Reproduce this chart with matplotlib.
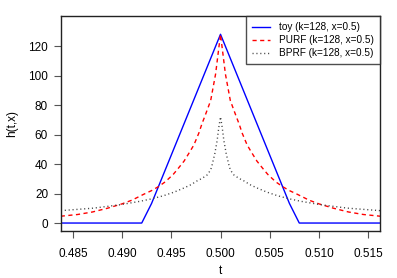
import numpy as np
import matplotlib
matplotlib.use("Agg")
import matplotlib.pyplot as plt

plt.rcParams['font.family'] = ['Liberation Sans', 'DejaVu Sans']

# toy kernel (tent)
toy_t = [0.480, 0.492, 0.493, 0.500, 0.507, 0.508, 0.520]
toy_h = [0.0, 0.0, 13.3, 128.0, 13.3, 0.0, 0.0]

# PURF: distance from 0.5 and value (symmetric)
purf_d = [0, 0.0005, 0.001, 0.0015, 0.0019, 0.0022, 0.0027, 0.0031, 0.0037,
          0.0043, 0.0048, 0.0056, 0.0063, 0.007, 0.0078, 0.009, 0.010,
          0.0115, 0.0130, 0.0145, 0.0170]
purf_h = [128, 101, 83, 74, 67, 61, 53, 48.5, 42, 37, 33, 28, 24.7, 22,
          19.5, 15.5, 13, 10, 7.5, 5.8, 4.1]

# BPRF
bprf_d = [0, 0.00017, 0.00034, 0.00058, 0.00085, 0.001, 0.00136, 0.00187,
          0.0024, 0.003, 0.0037, 0.0047, 0.0058, 0.007, 0.0082, 0.0102,
          0.0129, 0.0170]
bprf_h = [72, 65, 56, 47, 39.5, 36, 32.6, 30.3, 28.5, 26, 23.8, 21, 18.5,
          16.4, 14.7, 12.4, 10.1, 8.0]

xticks = [0.485, 0.490, 0.495, 0.500, 0.505, 0.510, 0.515]
yticks = [0, 20, 40, 60, 80, 100, 120]
labels = ["toy (k=128, x=0.5)", "PURF (k=128, x=0.5)", "BPRF (k=128, x=0.5)"]


def mirror(d, h):
    d = np.asarray(d, float)
    h = np.asarray(h, float)
    t = np.concatenate([0.5 - d[::-1], 0.5 + d[1:]])
    v = np.concatenate([h[::-1], h[1:]])
    return t, v


fig = plt.figure(figsize=(3.97, 2.78), dpi=100)
ax = fig.add_axes([61 / 397, 1 - 231 / 278, (380 - 61) / 397, (231 - 16) / 278])

ax.plot(toy_t, toy_h, color='#0000FF', lw=1.0, label=labels[0])
pt, pv = mirror(purf_d, purf_h)
ax.plot(pt, pv, color='#FF0000', lw=1.0, linestyle=(0, (3, 2.5)), label=labels[1])
bt, bv = mirror(bprf_d, bprf_h)
ax.plot(bt, bv, color='#444444', lw=1.0, linestyle=(0, (0.8, 2)), label=labels[2])

xmin, xmax = 0.485, 0.515
xr = xmax - xmin
ax.set_xlim(xmin - 0.04 * xr, xmax + 0.04 * xr)
ymin, ymax = 0, 135
yr = ymax - ymin
ax.set_ylim(ymin - 0.04 * yr, ymax + 0.04 * yr)

ax.set_xticks(xticks)
ax.set_xticklabels([f"{v:.3f}" for v in xticks])
ax.set_yticks(yticks)
ax.set_yticklabels([str(v) for v in yticks])
ax.tick_params(direction='out', length=5, width=0.8, labelsize=8.5, pad=7,
               color='#555555')
ax.tick_params(axis='y', pad=4.3)
for s in ax.spines.values():
    s.set_linewidth(1.0)
    s.set_color('#222222')

ax.set_xlabel("t", fontsize=8.5, labelpad=3.5)
ax.set_ylabel("h(t,x)", fontsize=8.5, labelpad=7)

leg = ax.legend(loc='upper right', fontsize=7.2, frameon=True, fancybox=False,
                borderaxespad=0, handlelength=1.8, handletextpad=0.9,
                labelspacing=0.3, borderpad=0.62)
leg.get_frame().set_edgecolor('#222222')
leg.get_frame().set_linewidth(1.0)

fig.savefig("out.png", dpi=100)
